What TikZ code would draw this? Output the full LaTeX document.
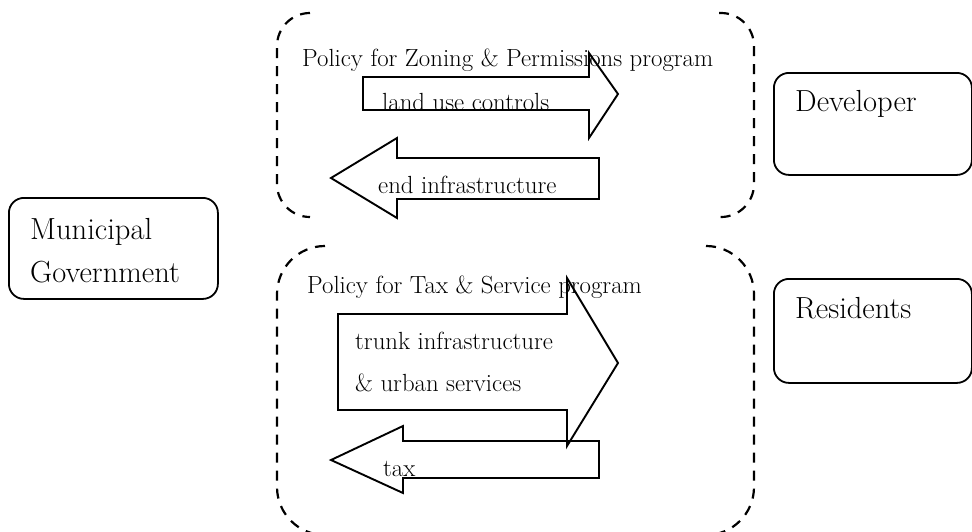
\documentclass[tikz,border=0pt]{standalone}
\usepackage{fontspec}
\begin{document}
\begin{tikzpicture}[x=1pt,y=-1pt,
  lbl/.style={inner sep=0pt, anchor=base west, font=\fontsize{24.8}{29}\selectfont},
  big/.style={inner sep=0pt, anchor=base west, font=\fontsize{30.5}{36}\selectfont},
  actor/.style={draw, line width=1.8pt, rounded corners=15pt, anchor=north west, inner sep=0pt},
  grp/.style={line width=2.2pt, dash pattern=on 10pt off 8pt},
  flow/.style={draw, line width=1.9pt, line join=miter}]
\useasboundingbox (0,0) rectangle (972,531);

% actors
\node[actor, minimum width=209pt, minimum height=101pt] (mun) at (8,197) {};
\node[big] (munA) at (30,239) {Municipal};
\node[big] (munB) at (30,282) {Government};
\node[actor, minimum width=198pt, minimum height=102pt] (dev) at (773,72) {};
\node[big] (devT) at (795,111) {Developer};
\node[actor, minimum width=198pt, minimum height=104pt] (res) at (773,278) {};
\node[big] (resT) at (795,318) {Residents};

% dashed program groups (only the curved sides are drawn)
\draw[grp, rounded corners=33pt] (310,13) -- (277,13) -- (277,217) -- (310,217);
\draw[grp, rounded corners=33pt] (719,13) -- (754,13) -- (754,217) -- (719,217);
\draw[grp, rounded corners=48pt] (325,246) -- (277,246) -- (277,535) -- (325,535);
\draw[grp, rounded corners=48pt] (706,246) -- (754,246) -- (754,535) -- (706,535);

% texts
\node[lbl] (zt) at (302,66) {Policy for Zoning \& Permissions program};
\node[lbl] (luc) at (382,110) {land use controls};
\node[lbl] (endi) at (378,193) {end infrastructure};
\node[lbl] (tt) at (307,293) {Policy for Tax \& Service program};
\node[lbl] (tr1) at (355,349) {trunk infrastructure};
\node[lbl] (tr2) at (355,391) {\& urban services};
\node[lbl] (tax) at (383,476) {tax};

% block arrows
\draw[flow] (363,77) -- (589,77) -- (589,53) -- (618,94) -- (589,138) -- (589,110) -- (363,110) -- cycle;
\draw[flow] (599,158) -- (397,158) -- (397,138) -- (331,178) -- (397,218) -- (397,199) -- (599,199) -- cycle;
\draw[flow] (338,314) -- (567,314) -- (567,278) -- (618,363) -- (567,446) -- (567,410) -- (338,410) -- cycle;
\draw[flow] (599,441) -- (403,441) -- (403,426) -- (331,460) -- (403,493) -- (403,478) -- (599,478) -- cycle;
\end{tikzpicture}
\end{document}
